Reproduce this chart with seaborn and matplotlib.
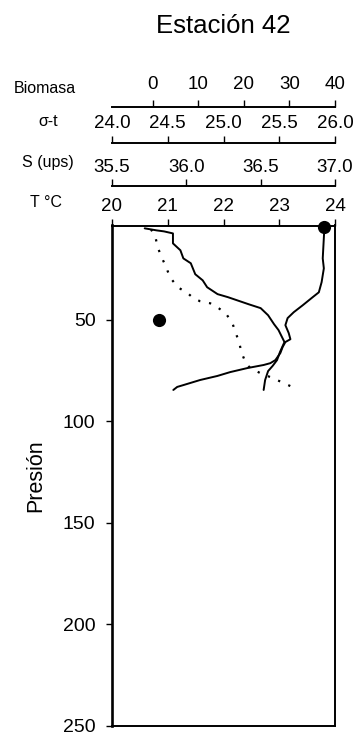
import matplotlib
matplotlib.use("Agg")
import matplotlib.pyplot as plt
import seaborn as sns

sns.set_theme(style="ticks")
plt.rcParams["font.family"] = ["Liberation Sans", "DejaVu Sans"]
plt.rcParams.update({
    "text.color": "black",
    "axes.edgecolor": "black",
    "axes.labelcolor": "black",
    "xtick.color": "black",
    "ytick.color": "black",
})

# CTD profile, station 42
pres_temp = [4.4, 19.7, 24.6, 31.4, 36.4, 38.8, 42.8, 46.2, 49.1, 52.6, 56.5, 59.5,
             60.9, 63.4, 66.3, 69.8, 71.3, 72.2, 73.7, 75.7, 77.6, 79.6, 82.1, 83.0, 84.5]
temp = [23.81, 23.78, 23.80, 23.76, 23.71, 23.60, 23.42, 23.26, 23.15, 23.11, 23.17, 23.20,
        23.11, 23.06, 23.02, 22.93, 22.84, 22.72, 22.43, 22.12, 21.89, 21.58, 21.28, 21.17, 21.10]

pres_sal = [4.9, 5.9, 6.4, 7.4, 12.3, 15.7, 19.7, 22.1, 27.5, 30.5, 33.9, 37.3, 38.8,
            42.3, 44.2, 47.7, 52.1, 55.0, 60.9, 65.8, 69.8, 72.7, 75.2, 79.6, 84.5]
sal = [35.72, 35.80, 35.85, 35.91, 35.91, 35.96, 35.98, 36.03, 36.06, 36.11, 36.14, 36.21, 36.28,
       36.42, 36.50, 36.55, 36.59, 36.62, 36.66, 36.63, 36.61, 36.58, 36.55, 36.53, 36.52]

pres_sig = [5.4, 9.3, 14.3, 19.7, 24.6, 29.0, 33.9, 36.9, 39.3, 40.8, 41.8, 43.2,
            46.7, 51.6, 56.5, 60.9, 65.8, 71.3, 73.7, 76.2, 78.6, 80.1, 82.6]
sigma_t = [24.35, 24.39, 24.41, 24.45, 24.49, 24.52, 24.59, 24.68, 24.73, 24.79, 24.88, 24.93,
           25.02, 25.08, 25.11, 25.14, 25.16, 25.20, 25.24, 25.33, 25.44, 25.50, 25.60]

pres_bio = [4.0, 50.0]
biomasa = [37.6, 1.3]

temp_ticks = [20, 21, 22, 23, 24]
temp_labels = ["20", "21", "22", "23", "24"]
sal_ticks = [35.5, 36.0, 36.5, 37.0]
sal_labels = ["35.5", "36.0", "36.5", "37.0"]
sig_ticks = [24.0, 24.5, 25.0, 25.5, 26.0]
sig_labels = ["24.0", "24.5", "25.0", "25.5", "26.0"]
bio_ticks = [0, 10, 20, 30, 40]
bio_labels = ["0", "10", "20", "30", "40"]
pres_ticks = [50, 100, 150, 200, 250]
pres_labels = ["50", "100", "150", "200", "250"]

W, H = 358, 736
fig = plt.figure(figsize=(W / 100, H / 100), dpi=100)
ax = fig.add_axes([112 / W, 10 / H, 223 / W, 500.5 / H])

tick_kw = dict(direction="out", length=5, width=1.0, labelsize=13.5, pad=2.5)


def top_axis(offset, lim, ticks, labels, name, name_xy, pad=2.5):
    t = ax.twiny()
    for s in ["left", "right", "bottom"]:
        t.spines[s].set_visible(False)
    t.spines["top"].set_position(("outward", offset))
    t.spines["top"].set_linewidth(1.4)
    t.set_xlim(lim)
    t.set_xticks(ticks, labels=labels)
    t.tick_params(axis="x", **{**tick_kw, "pad": pad})
    t.set_xlabel(name, fontsize=11.5)
    t.xaxis.set_label_coords(*name_xy)
    t.xaxis.label.set_va("center")
    t.xaxis.label.set_ha("center")
    return t


ax_s = top_axis(28.4, (35.5, 37.0), sal_ticks, sal_labels, "S (ups)", (-0.287, 1.1249))
ax_sig = top_axis(59.6, (24.0, 26.0), sig_ticks, sig_labels, "σ-t", (-0.287, 1.2068))
ax_b = top_axis(85.5, (-8.9, 40), bio_ticks, bio_labels, "Biomasa", (-0.300, 1.2737), pad=5)

# temperature on the main axes (top spine)
sns.lineplot(x=temp, y=pres_temp, sort=False, estimator=None, color="black",
             linewidth=1.4, ax=ax)
sns.lineplot(x=sal, y=pres_sal, sort=False, estimator=None, color="black",
             linewidth=1.4, ax=ax_s)
sns.lineplot(x=sigma_t, y=pres_sig, sort=False, estimator=None, color="black",
             linewidth=1.6, linestyle=(0, (1, 4)), ax=ax_sig)
sns.scatterplot(x=biomasa, y=pres_bio, s=90, color="black", linewidth=0,
                clip_on=False, zorder=5, ax=ax_b)

for t, lim in [(ax_s, (35.5, 37.0)), (ax_sig, (24.0, 26.0)), (ax_b, (-8.9, 40))]:
    t.set_xlim(lim)

ax.xaxis.tick_top()
ax.xaxis.set_label_position("top")
ax.set_xlim(20, 24)
ax.set_xticks(temp_ticks, labels=temp_labels)
ax.tick_params(axis="x", **tick_kw)
ax.set_xlabel("T °C", fontsize=11.5)
ax.xaxis.set_label_coords(-0.296, 1.045)
ax.xaxis.label.set_va("center")

ax.set_ylim(250, 3.5)
ax.set_yticks(pres_ticks, labels=pres_labels)
ax.tick_params(axis="y", direction="out", length=4.3, width=1.0, labelsize=14, pad=7.5)
ax.set_ylabel("Presión", fontsize=15.5)
ax.yaxis.set_label_coords(-0.2946, 0.5)

ax.spines["left"].set_linewidth(1.9)
for s in ["right", "bottom", "top"]:
    ax.spines[s].set_linewidth(1.4)

ax.set_title("Estación 42", fontsize=18.5, y=1.3846, pad=0)

fig.savefig("out.png", dpi=100)
